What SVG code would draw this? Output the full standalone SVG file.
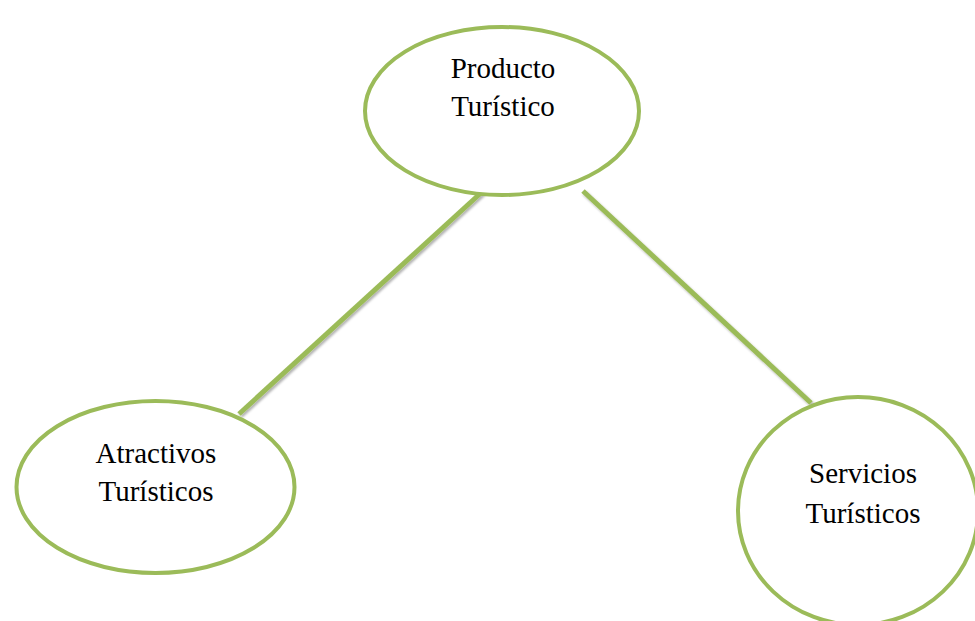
<svg xmlns="http://www.w3.org/2000/svg" width="975" height="621" viewBox="0 0 975 621">
<defs>
<style>
.node{fill:#ffffff;stroke:#9BBB59;stroke-width:4}
.conn{stroke:#9BBB59;stroke-width:5;fill:none;filter:url(#sh)}
.lbl{font-family:"Liberation Serif","Times New Roman",serif;font-size:29px;fill:#000;text-anchor:middle}
</style>
<filter id="sh" x="-10%" y="-10%" width="120%" height="120%">
<feDropShadow dx="1.5" dy="2" stdDeviation="1.2" flood-color="#000" flood-opacity="0.3"/>
</filter>
</defs>
<rect width="975" height="621" fill="#ffffff"/>
<g id="connectors">
<line class="conn" x1="483" y1="191" x2="239" y2="414"/>
<line class="conn" x1="583" y1="191" x2="811" y2="403"/>
</g>
<g id="producto">
<ellipse class="node" cx="502" cy="111" rx="137" ry="84"/>
<text class="lbl" x="503" y="78">Producto</text>
<text class="lbl" x="503" y="116">Turístico</text>
</g>
<g id="atractivos">
<ellipse class="node" cx="155.5" cy="487" rx="139" ry="86"/>
<text class="lbl" x="156" y="463">Atractivos</text>
<text class="lbl" x="156" y="501">Turísticos</text>
</g>
<g id="servicios">
<ellipse class="node" cx="858" cy="511" rx="120" ry="114"/>
<text class="lbl" x="863" y="483">Servicios</text>
<text class="lbl" x="863" y="523">Turísticos</text>
</g>
</svg>
